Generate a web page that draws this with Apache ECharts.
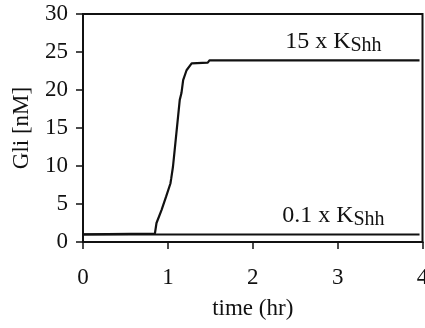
<!DOCTYPE html>
<html>
<head>
<meta charset="utf-8">
<script src="https://cdn.jsdelivr.net/npm/echarts@6/dist/echarts.min.js"></script>
<style>
  html, body { margin: 0; padding: 0; background: #fff; }
  #chart { width: 425px; height: 328px; }
</style>
</head>
<body>
<div id="chart"></div>
<script>
// Gli response over time for two Shh doses
const timeHigh = [0, 0.847, 0.866, 0.925, 0.98, 1.03, 1.04, 1.06, 1.08, 1.10, 1.12, 1.14, 1.16, 1.18, 1.22, 1.28, 1.47, 1.49, 3.965];
const gliHigh  = [1.0, 1.1, 2.5, 4.2, 6.0, 7.7, 8.4, 9.9, 12.1, 14.3, 16.5, 18.7, 19.6, 21.3, 22.6, 23.5, 23.6, 23.9, 23.9];
const timeLow  = [0, 3.965];
const gliLow   = [1.0, 1.0];
const xTicks = [0, 1, 2, 3, 4];
const yTicks = [0, 5, 10, 15, 20, 25, 30];
const labelHigh = '15 x K';
const labelLow = '0.1 x K';
const subscript = 'Shh';
const labelTime = 2.95;

const serif = '"Liberation Serif", "DejaVu Serif", serif';

function pairs(xs, ys) { return xs.map((x, i) => [x, ys[i]]); }

function doseLabel(text, y) {
  return {
    symbol: 'circle',
    symbolSize: 0,
    data: [{ coord: [labelTime, y] }],
    label: {
      show: true,
      position: 'inside',
      offset: [0, -19],
      formatter: text + '{s|' + subscript + '}',
      color: '#111',
      fontFamily: serif,
      fontSize: 24,
      rich: {
        s: { fontFamily: serif, fontSize: 20, color: '#111', padding: [9, 0, 0, 0] }
      }
    }
  };
}

const chart = echarts.init(document.getElementById('chart'), null, { renderer: 'canvas' });
chart.setOption({
  animation: false,
  backgroundColor: '#fff',
  grid: {
    left: 83, right: 2.5, top: 14, bottom: 86,
    outerBoundsMode: 'none', containLabel: false,
    show: true, borderColor: '#111', borderWidth: 2, backgroundColor: 'transparent'
  },
  xAxis: {
    type: 'value', min: xTicks[0], max: xTicks[xTicks.length - 1], interval: 1,
    name: 'time (hr)', nameLocation: 'middle', nameGap: 55,
    nameTextStyle: { fontFamily: serif, fontSize: 23, color: '#111' },
    axisLine: { show: true, onZero: false, lineStyle: { color: '#111', width: 2 } },
    axisTick: { show: true, inside: false, length: 7, lineStyle: { color: '#111', width: 1.5 } },
    axisLabel: { margin: 24, fontFamily: serif, fontSize: 23, color: '#111', hideOverlap: false },
    splitLine: { show: false }
  },
  yAxis: {
    type: 'value', min: yTicks[0], max: yTicks[yTicks.length - 1], interval: 5,
    name: 'Gli [nM]', nameLocation: 'middle', nameGap: 50, nameRotate: 90,
    nameTextStyle: { fontFamily: serif, fontSize: 23, color: '#111' },
    axisLine: { show: true, lineStyle: { color: '#111', width: 2 } },
    axisTick: { show: true, inside: false, length: 7, lineStyle: { color: '#111', width: 1.5 } },
    axisLabel: { margin: 15, fontFamily: serif, fontSize: 23, color: '#111' },
    splitLine: { show: false }
  },
  series: [
    {
      type: 'line', name: '0.1 x KShh', data: pairs(timeLow, gliLow),
      showSymbol: false, lineStyle: { color: '#111', width: 2 },
      markPoint: doseLabel(labelLow, gliLow[gliLow.length - 1])
    },
    {
      type: 'line', name: '15 x KShh', data: pairs(timeHigh, gliHigh),
      showSymbol: false, lineStyle: { color: '#111', width: 2.2 },
      markPoint: doseLabel(labelHigh, gliHigh[gliHigh.length - 1])
    }
  ]
});
</script>
</body>
</html>
